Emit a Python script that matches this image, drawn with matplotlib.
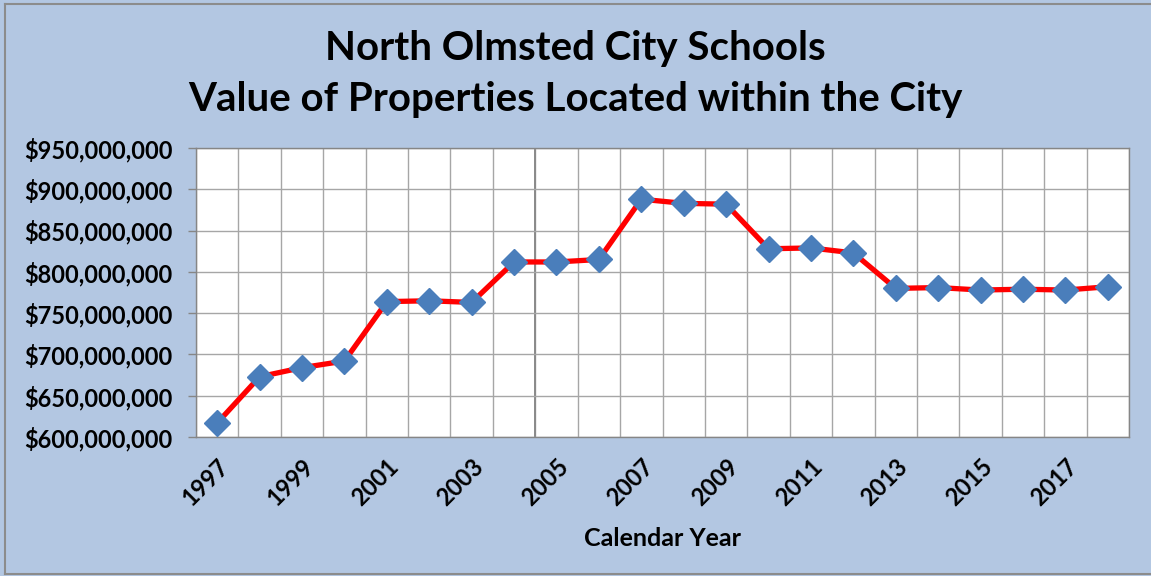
import matplotlib.pyplot as plt
from matplotlib.ticker import FuncFormatter, MultipleLocator

# data
years = list(range(1997, 2019))
values = [617, 673, 684, 692, 764, 765, 763, 812, 812, 815, 888, 883,
          882, 828, 829, 823, 780, 781, 778, 779, 778, 782]  # millions of $
values = [v * 1e6 for v in values]
tick_years = [y for y in years if y % 2 == 1]

plt.rcParams['font.family'] = ['Lato', 'DejaVu Sans']
plt.rcParams['font.weight'] = 'bold'

bg = '#b3c7e2'
fig = plt.figure(figsize=(11.51, 5.76), dpi=100, facecolor=bg)
ax = fig.add_axes([0.1703, 0.2413, 0.8106, 0.5017])
ax.set_facecolor('white')

x = list(range(len(years)))
ax.plot(x, values, color='#ff0000', linewidth=3.8, zorder=3)
ax.plot(x, values, linestyle='none', marker='D', markersize=13,
        color='#4a7ebb', markeredgecolor='#4a7ebb', zorder=4)

ax.set_xlim(-0.5, len(years) - 0.5)
ax.set_ylim(600e6, 950e6)
ax.yaxis.set_major_locator(MultipleLocator(50e6))
ax.yaxis.set_major_formatter(FuncFormatter(lambda v, p: f'${v:,.0f}'))

# vertical grid at category boundaries
for b in range(len(years) + 1):
    ax.axvline(b - 0.5, color='#a6a6a6', linewidth=1.0, zorder=1)
ax.axvline(7.5, color='#8a8a8a', linewidth=1.4, zorder=1)
ax.grid(axis='y', color='#a6a6a6', linewidth=1.0, zorder=1)

ax.set_xticks([years.index(y) for y in tick_years])
ax.set_xticklabels([str(y) for y in tick_years], rotation=45, ha='right',
                   rotation_mode='anchor', fontsize=17, fontweight='bold')
ax.tick_params(axis='x', length=0, pad=13)
ax.tick_params(axis='y', length=6, width=1, color='#868686', labelsize=17, pad=11)
for lab in ax.get_yticklabels():
    lab.set_fontweight('bold')

for s in ax.spines.values():
    s.set_color('#868686')
    s.set_linewidth(1)

ax.set_xlabel('Calendar Year', fontsize=18, fontweight='bold', labelpad=12)

fig.text(0.5, 0.915, 'North Olmsted City Schools', ha='center', va='center',
         fontsize=29, fontweight='bold')
fig.text(0.5, 0.827, 'Value of Properties Located within the City', ha='center',
         va='center', fontsize=29, fontweight='bold')

# chart border
fig.add_artist(plt.Line2D([0.0045, 0.0045], [0.003, 0.993], color='#8c8c8c', linewidth=1.5))
fig.add_artist(plt.Line2D([0.0045, 1], [0.993, 0.993], color='#8c8c8c', linewidth=1.5))
fig.add_artist(plt.Line2D([0.0045, 1], [0.004, 0.004], color='#8c8c8c', linewidth=1.5))

fig.savefig('out.png', facecolor=bg)
